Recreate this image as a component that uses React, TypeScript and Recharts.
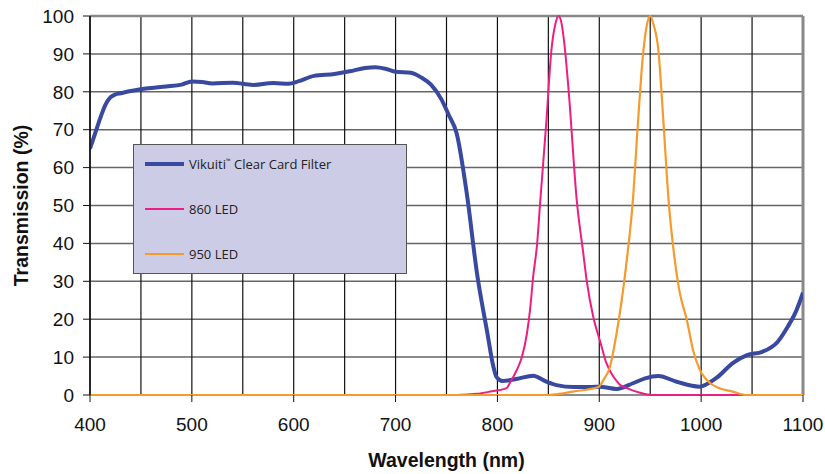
import * as React from "react";
import {
  LineChart,
  Line,
  XAxis,
  YAxis,
  CartesianGrid,
  ReferenceLine,
} from "recharts";

// Transmission spectra.
const filterNm = [
  400, 405, 410, 415, 420, 425, 430, 440, 450, 460, 475, 490, 500, 510, 520, 540, 560, 580, 595,
  605, 620, 640, 655, 670, 680, 690, 700, 715, 725, 735, 745, 752, 760, 770, 780, 790, 796, 799,
  805, 820, 835, 848, 858, 875, 891, 900, 917, 933, 945, 958, 976, 998, 1015, 1031, 1045, 1060,
  1075, 1085, 1093, 1100,
];
const filterT = [
  65, 69, 73, 76.5, 78.5, 79.3, 79.6, 80.2, 80.7, 81, 81.4, 81.9, 82.7, 82.6, 82.2, 82.4, 81.8,
  82.3, 82.1, 82.8, 84.2, 84.7, 85.4, 86.3, 86.5, 86.1, 85.3, 85, 83.8, 81.8, 78, 74, 69, 53, 32,
  16.5, 7.5, 4.8, 3.7, 4.3, 5.1, 3.5, 2.6, 2.1, 2.1, 2.2, 1.6, 3.1, 4.4, 5, 3.5, 2.2, 4.5, 8.4,
  10.5, 11.4, 14, 18, 22, 27,
];

const led860Nm = [
  400, 760, 780, 793, 809, 812, 819, 824, 829, 832, 835, 839, 842, 848, 853, 857, 860, 863, 866,
  870, 878, 884, 888, 894, 901, 907, 914, 920, 927, 940, 951, 1100,
];
const led860T = [
  0, 0, 0.3, 0.9, 1.8, 3.1, 6.6, 10, 16.3, 22.4, 31, 40, 51, 72, 91, 98, 100, 98, 92, 80, 51, 38,
  29.5, 20.7, 14, 8.4, 4.8, 2.8, 1.8, 0.6, 0, 0,
];

const led950Nm = [
  400, 850, 858, 874, 899, 905, 910, 917, 922, 927, 933, 938, 943, 947, 950, 953, 958, 963, 968,
  973, 979, 986, 992, 998, 1009, 1018, 1031, 1045, 1100,
];
const led950T = [
  0, 0, 0.2, 0.9, 2.1, 4.4, 7, 16.3, 25, 35.6, 51.5, 72, 90, 98, 100, 98, 91, 72, 51.5, 38, 27,
  19.8, 11.9, 7.1, 3.1, 1.8, 0.9, 0, 0,
];

const wavelengthTicks = [400, 500, 600, 700, 800, 900, 1000, 1100];
const gridNm = [400, 450, 500, 550, 600, 650, 700, 750, 800, 850, 900, 950, 1000, 1050, 1100];
const percentTicks = [0, 10, 20, 30, 40, 50, 60, 70, 80, 90, 100];

const BLUE = "#3a49a0";
const PINK = "#ec1e84";
const ORANGE = "#f79a2e";
const FONT = "'Liberation Sans', Arial, sans-serif";

const toRows = (nm: number[], t: number[]) => nm.map((x, i) => ({ nm: x, t: t[i] }));

const legendItems = [
  { label: "Vikuiti", mark: "\u2122", rest: " Clear Card Filter", color: BLUE, width: 4 },
  { label: "860 LED", mark: "", rest: "", color: PINK, width: 1.5 },
  { label: "950 LED", mark: "", rest: "", color: ORANGE, width: 1.5 },
];

export default function App() {
  const filterRows = toRows(filterNm, filterT);
  const led860Rows = toRows(led860Nm, led860T);
  const led950Rows = toRows(led950Nm, led950T);

  const tick = { fontSize: 19, fill: "#111", fontFamily: FONT };

  return (
    <div style={{ position: "absolute", left: 0, top: 0, width: 825, height: 474, background: "#fff" }}>
      <LineChart width={825} height={474} margin={{ top: 16, right: 22, left: 0, bottom: 0 }}>
        <CartesianGrid vertical={false} horizontalValues={percentTicks} stroke="#666" strokeWidth={1.5} />
        <CartesianGrid horizontal={false} verticalValues={gridNm} stroke="#111" strokeWidth={1.2} />
        {/* the x axis line is left to the zero-level series, which cover it in the original */}
        <XAxis
          type="number"
          dataKey="nm"
          domain={[400, 1100]}
          ticks={wavelengthTicks}
          allowDataOverflow
          height={79}
          tickSize={7}
          tickMargin={16}
          tick={tick}
          stroke="#111"
          axisLine={false}
          label={{
            value: "Wavelength (nm)",
            position: "insideBottom",
            offset: 7,
            style: { fontSize: 19.5, fontWeight: 700, fill: "#111", fontFamily: FONT },
          }}
        />
        <YAxis
          type="number"
          domain={[0, 100]}
          ticks={percentTicks}
          width={90}
          tickSize={7}
          tickMargin={9}
          tick={tick}
          stroke="#111"
          axisLine={{ stroke: "#111", strokeWidth: 1.5 }}
          label={{
            content: (props: any) => {
              const vb = props.viewBox || { x: 0, y: 16, width: 90, height: 379 };
              const cx = vb.x + 21;
              const cy = vb.y + vb.height / 2;
              return (
                <text
                  x={cx}
                  y={cy}
                  transform={`rotate(-90 ${cx} ${cy})`}
                  textAnchor="middle"
                  dominantBaseline="central"
                  style={{ fontSize: 19.5, fontWeight: 700, fill: "#111", fontFamily: FONT }}
                >
                  Transmission (%)
                </text>
              );
            },
          }}
        />
        {/* plot frame: gray top and right edges */}
        <ReferenceLine y={100} stroke="#888" strokeWidth={2.5} />
        <ReferenceLine x={1100} stroke="#888" strokeWidth={3} />

        <Line
          data={filterRows}
          dataKey="t"
          type="monotone"
          stroke={BLUE}
          strokeWidth={4}
          dot={false}
          isAnimationActive={false}
        />
        <Line
          data={led860Rows}
          dataKey="t"
          type="monotone"
          stroke={PINK}
          strokeWidth={2}
          dot={false}
          isAnimationActive={false}
        />
        <Line
          data={led950Rows}
          dataKey="t"
          type="monotone"
          stroke={ORANGE}
          strokeWidth={2.2}
          dot={false}
          isAnimationActive={false}
        />
      </LineChart>

      {/* legend box sits inside the plot, drawn over the grid */}
      <div
        style={{
          position: "absolute",
          left: 133,
          top: 144,
          width: 272,
          height: 128,
          background: "#cdcce6",
          border: "1.5px solid #555",
          fontFamily: "'Open Sans', sans-serif",
          fontSize: 13,
          color: "#222",
        }}
      >
        {legendItems.map((it, i) => (
          <div
            key={it.label}
            style={{
              position: "absolute",
              left: 11,
              top: 19 + i * 45 - 10,
              height: 20,
              display: "flex",
              alignItems: "center",
              whiteSpace: "nowrap",
            }}
          >
            <span style={{ display: "inline-block", width: 39, height: it.width, background: it.color, marginRight: 5 }} />
            <span>
              {it.label}
              {it.mark && <sup style={{ fontSize: 6, verticalAlign: "6px" }}>{it.mark}</sup>}
              {it.rest}
            </span>
          </div>
        ))}
      </div>
    </div>
  );
}
